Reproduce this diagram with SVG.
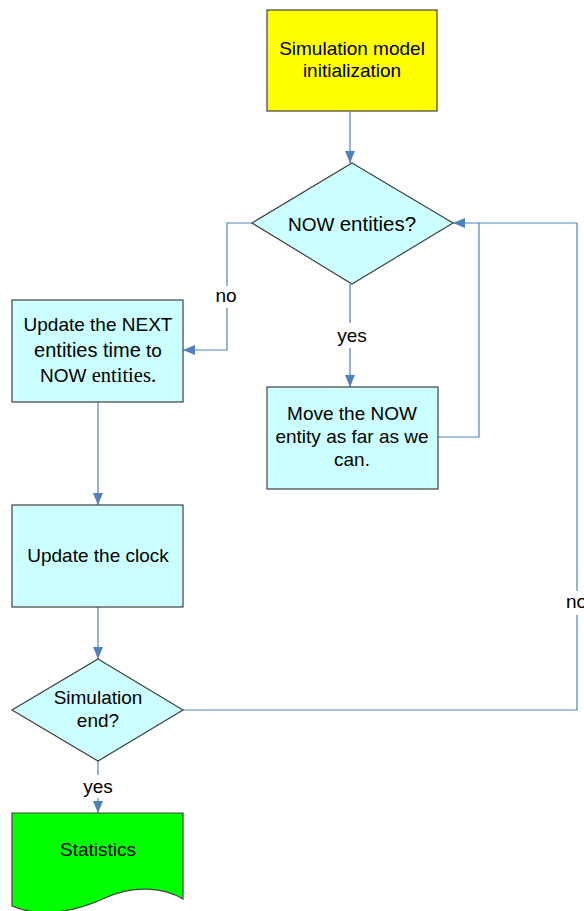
<svg xmlns="http://www.w3.org/2000/svg" width="584" height="911" viewBox="0 0 584 911">
  <style>
    .box { stroke: #404040; stroke-width: 1.2; }
    .proc { fill: #CCFFFF; }
    .conn { fill: none; stroke: #4F81BD; stroke-width: 1.2; }
    .t { font-family: "Liberation Sans", Arial, sans-serif; font-size: 19px; fill: #000; text-anchor: middle; }
  </style>
  <defs>
    <marker id="arrow" viewBox="0 0 12 10" refX="12" refY="5" markerWidth="12" markerHeight="10" markerUnits="userSpaceOnUse" orient="auto">
      <path d="M0,0 L12,5 L0,10 Z" fill="#4F81BD"/>
    </marker>
  </defs>

  <!-- connectors -->
  <g id="connectors">
    <path class="conn" d="M350,112 V163" marker-end="url(#arrow)"/>
    <path class="conn" d="M252,223 H227 V286"/>
    <path class="conn" d="M227,308 V350 H183" marker-end="url(#arrow)"/>
    <path class="conn" d="M350,284 V323"/>
    <path class="conn" d="M350,348 V387" marker-end="url(#arrow)"/>
    <path class="conn" d="M438,437 H479 V223 H453" marker-end="url(#arrow)"/>
    <path class="conn" d="M98,402 V505" marker-end="url(#arrow)"/>
    <path class="conn" d="M98,607 V659" marker-end="url(#arrow)"/>
    <path class="conn" d="M183,710 H577 V615"/>
    <path class="conn" d="M577,591 V223 H479"/>
    <path class="conn" d="M98,761 V775"/>
    <path class="conn" d="M98,798 V813" marker-end="url(#arrow)"/>
    <text class="t" x="226" y="302">no</text>
    <text class="t" x="352" y="342">yes</text>
    <text class="t" x="98" y="793">yes</text>
    <text class="t" x="566" y="608" style="text-anchor:start">no</text>
  </g>

  <g id="init">
    <rect class="box" x="267" y="10" width="170" height="101" fill="#FFFF00"/>
    <text class="t" x="352" y="55">Simulation model</text>
    <text class="t" x="352" y="77">initialization</text>
  </g>

  <g id="now-entities">
    <polygon class="box proc" points="352,163 453,223 352,284 252,223"/>
    <text class="t" x="352" y="231"><tspan>NOW </tspan><tspan style="font-size:20.5px">entities?</tspan></text>
  </g>

  <g id="update-next">
    <rect class="box proc" x="12" y="300" width="171" height="102"/>
    <text class="t" x="98" y="331">Update the NEXT</text>
    <text class="t" x="98" y="357"><tspan style="font-size:20px">entities time</tspan> to</text>
    <text class="t" x="98" y="382">NOW <tspan style="font-family:'Liberation Serif','Times New Roman',serif;font-size:20.5px">entities.</tspan></text>
  </g>

  <g id="move-now">
    <rect class="box proc" x="267" y="387" width="171" height="102"/>
    <text class="t" x="352" y="420">Move the NOW</text>
    <text class="t" x="352" y="443">entity as far as we</text>
    <text class="t" x="352" y="466">can.</text>
  </g>

  <g id="update-clock">
    <rect class="box proc" x="12" y="505" width="171" height="102"/>
    <text class="t" x="98" y="562">Update the clock</text>
  </g>

  <g id="sim-end">
    <polygon class="box proc" points="98,659 183,710 98,761 12,710"/>
    <text class="t" x="98" y="704">Simulation</text>
    <text class="t" x="98" y="727">end?</text>
  </g>

  <g id="statistics">
    <path class="box" fill="#00FF00" d="M12,813 H183 V899 C165,888 135,884 105,898 C75,912 40,918 12,906 Z"/>
    <text class="t" x="98" y="856">Statistics</text>
  </g>
</svg>
